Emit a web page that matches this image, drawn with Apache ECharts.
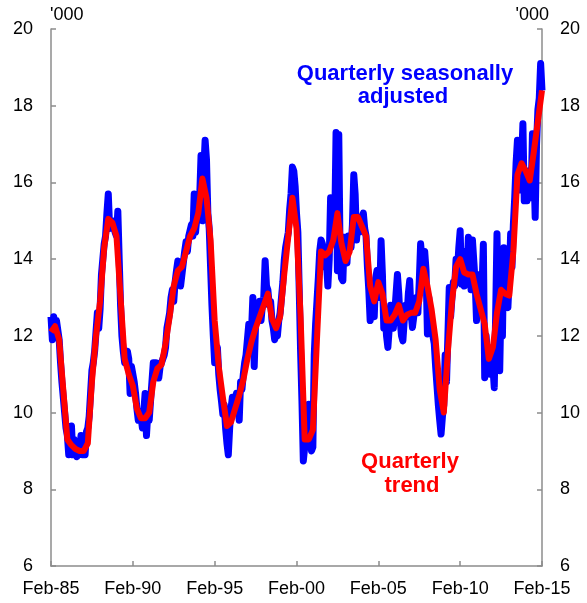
<!DOCTYPE html>
<html>
<head>
<meta charset="utf-8">
<script src="https://cdn.jsdelivr.net/npm/echarts@6/dist/echarts.min.js"></script>
<style>
  html, body { margin: 0; padding: 0; background: #fff; }
  #chart { width: 587px; height: 603px; }
</style>
</head>
<body>
<div id="chart"></div>
<script>
// x ticks every 60 months, starting Feb-85
var tickLabels = ['Feb-85', 'Feb-90', 'Feb-95', 'Feb-00', 'Feb-05', 'Feb-10', 'Feb-15'];

// monthly, Feb-85 .. Feb-15 (quarterly seasonally adjusted, '000)
var saValues = [
  12.5, 11.9, 12.5, 12.0, 12.4, 12.4, 11.9, 11.3, 10.8, 10.4, 10.0, 9.6,
  9.4, 8.9, 9.2, 9.65, 8.9, 9.3, 9.1, 8.85, 9.2, 9.0, 9.4, 8.9,
  9.3, 8.9, 9.5, 9.6, 9.9, 10.5, 11.1, 11.3, 11.6, 12.1, 12.6, 12.2,
  12.7, 13.6, 14.0, 14.4, 14.6, 15.2, 15.7, 14.8, 14.8, 15.0, 14.9, 14.7,
  14.6, 15.25, 14.0, 12.8, 12.0, 11.6, 11.3, 11.4, 11.6, 11.4, 10.5, 11.2,
  11.0, 10.8, 10.5, 10.1, 9.8, 9.75, 9.9, 9.6, 10.0, 10.5, 9.4, 10.0,
  9.8, 10.3, 10.8, 11.3, 11.3, 11.3, 11.2, 10.9, 11.2, 11.3, 11.4, 11.5,
  11.7, 12.2, 12.4, 12.6, 13.0, 13.2, 12.9, 13.4, 13.7, 13.95, 14.0, 13.3,
  13.3, 13.9, 14.2, 14.45, 14.2, 14.6, 14.6, 14.9, 14.6, 15.7, 14.7, 15.1,
  15.2, 15.6, 16.7, 15.0, 16.3, 17.1, 16.6, 15.2, 14.8, 13.8, 12.8, 12.0,
  11.3, 11.5, 11.7, 11.0, 10.6, 10.3, 9.96, 10.2, 9.6, 9.2, 8.9, 9.6,
  10.1, 10.4, 10.1, 10.3, 10.5, 10.2, 9.8, 10.8, 10.6, 11.0, 11.3, 11.5,
  11.5, 12.3, 11.9, 12.1, 13.0, 11.2, 12.3, 12.5, 12.6, 12.9, 12.4, 12.8,
  13.0, 13.96, 13.3, 13.2, 12.8, 12.9, 12.4, 12.2, 11.9, 12.1, 12.0, 12.4,
  12.6, 13.0, 13.4, 13.96, 14.3, 14.5, 14.7, 15.3, 15.7, 16.4, 16.3, 15.9,
  15.2, 14.7, 13.2, 11.6, 10.3, 8.74, 9.1, 9.4, 9.6, 10.22, 9.3, 9.0,
  9.1, 11.5, 12.3, 12.9, 13.5, 14.2, 14.5, 14.4, 13.8, 14.3, 13.9, 13.3,
  14.0, 15.6, 14.4, 14.6, 14.8, 17.3, 13.7, 17.25, 14.0, 13.5, 13.44, 14.57,
  14.0, 13.9, 14.6, 14.5, 14.3, 14.9, 16.2, 15.7, 14.5, 15.0, 14.7, 15.0,
  15.1, 15.2, 14.8, 14.6, 13.8, 13.2, 12.4, 12.6, 13.0, 12.5, 13.5, 13.7,
  13.2, 13.0, 14.48, 13.6, 12.2, 12.6, 12.0, 11.7, 12.2, 12.8, 12.5, 12.2,
  12.6, 13.1, 13.6, 13.1, 12.4, 12.0, 11.87, 12.4, 12.8, 12.5, 13.1, 13.44,
  12.6, 12.22, 12.5, 12.8, 13.0, 12.6, 13.4, 14.4, 14.0, 13.6, 14.2, 13.7,
  12.05, 13.0, 12.6, 12.3, 12.0, 11.8, 11.2, 10.7, 10.2, 9.8, 9.44, 9.9,
  10.2, 11.5, 10.8, 12.0, 13.26, 12.5, 13.0, 13.4, 13.3, 14.0, 13.7, 14.3,
  14.74, 13.35, 14.2, 13.3, 13.6, 13.5, 14.57, 13.7, 13.2, 14.5, 14.48, 13.4,
  12.4, 12.9, 13.6, 12.6, 13.2, 14.39, 10.91, 12.0, 11.5, 11.7, 11.0, 11.4,
  11.2, 10.65, 12.5, 14.66, 12.5, 11.09, 13.0, 12.0, 14.3, 13.2, 12.8, 12.74,
  13.5, 14.66, 13.8, 14.9, 15.6, 16.5, 17.1, 16.2, 15.8, 16.5, 17.53, 15.52,
  16.0, 15.52, 16.3, 16.0, 15.6, 17.27, 16.5, 15.09, 17.0, 17.9, 18.2, 19.1,
  18.4
];

// quarterly trend, one value every 3 months from Feb-85
var trendValues = [
  12.1, 12.25, 11.9, 10.6, 9.3, 9.15, 9.05, 9.0, 9.0, 9.2,
  10.8, 12.0, 12.9, 14.3, 15.05, 14.95, 14.6, 13.0, 11.4, 11.0,
  10.7, 10.1, 9.85, 9.85, 10.0, 10.8, 11.15, 11.25, 11.8, 12.5,
  13.3, 13.7, 13.8, 14.2, 14.6, 14.8, 15.2, 16.1, 15.6, 14.5,
  12.4, 11.2, 10.4, 9.65, 9.75, 10.1, 10.45, 10.85, 11.4, 11.85,
  12.2, 12.5, 12.8, 13.1, 12.45, 12.2, 12.5, 13.6, 14.6, 15.6,
  14.8, 12.5, 9.3, 9.3, 9.55, 11.9, 14.2, 14.1, 14.2, 14.5,
  15.2, 14.4, 13.95, 14.2, 15.1, 15.1, 14.85, 14.6, 13.3, 12.9,
  13.4, 13.1, 12.4, 12.4, 12.55, 12.8, 12.4, 12.55, 12.6, 12.6,
  12.9, 13.75, 13.3, 12.7, 11.9, 10.6, 10.0, 11.6, 12.9, 13.8,
  14.0, 13.65, 13.6, 13.6, 13.1, 12.7, 12.3, 11.4, 11.7, 12.6,
  13.2, 13.1, 13.05, 14.2, 16.2, 16.5, 16.3, 16.05, 16.8, 17.6,
  18.4
];

var chart = echarts.init(document.getElementById('chart'));

var font = "'Liberation Sans', Arial, sans-serif";
var axisColor = '#8c8c8c';

function yAxisCfg(pos) {
  return {
    type: 'value',
    position: pos,
    min: 6,
    max: 20,
    interval: 2,
    axisLine: { show: true, lineStyle: { color: axisColor, width: 1.5 } },
    axisTick: { show: true, inside: true, length: 5, lineStyle: { color: axisColor, width: 1.5 } },
    axisLabel: { color: '#000', fontSize: 18, fontFamily: font, margin: 18 },
    splitLine: { show: false }
  };
}

var option = {
  animation: false,
  grid: { left: 51, right: 45, top: 29, bottom: 37 },
  xAxis: {
    type: 'value',
    min: 0,
    max: 360,
    interval: 60,
    axisLine: { lineStyle: { color: axisColor, width: 1.5 } },
    axisTick: { inside: true, length: 5, lineStyle: { color: axisColor, width: 1.5 } },
    axisLabel: {
      color: '#000', fontSize: 18, fontFamily: font, margin: 14,
      formatter: function (v) { return tickLabels[Math.round(v / 60)]; }
    },
    splitLine: { show: false }
  },
  yAxis: [yAxisCfg('left'), yAxisCfg('right')],
  graphic: [
    { type: 'text', left: 50, top: 6, style: { text: "'000", fill: '#000', font: '18px ' + font } },
    { type: 'text', right: 38, top: 6, style: { text: "'000", fill: '#000', font: '18px ' + font } },
    { type: 'text', x: 405, y: 74, style: { text: 'Quarterly seasonally', fill: '#0000ff', font: 'bold 22px ' + font, textAlign: 'center', textVerticalAlign: 'middle' } },
    { type: 'text', x: 403, y: 97, style: { text: 'adjusted', fill: '#0000ff', font: 'bold 22px ' + font, textAlign: 'center', textVerticalAlign: 'middle' } },
    { type: 'text', x: 410, y: 462, style: { text: 'Quarterly', fill: '#ff0000', font: 'bold 22px ' + font, textAlign: 'center', textVerticalAlign: 'middle' } },
    { type: 'text', x: 412, y: 486, style: { text: 'trend', fill: '#ff0000', font: 'bold 22px ' + font, textAlign: 'center', textVerticalAlign: 'middle' } }
  ],
  series: [
    {
      name: 'Quarterly seasonally adjusted',
      type: 'line',
      symbol: 'none',
      data: saValues.map(function (v, i) { return [i, v]; }),
      lineStyle: { color: '#0000ff', width: 7, join: 'round' },
      z: 2
    },
    {
      name: 'Quarterly trend',
      type: 'line',
      symbol: 'none',
      data: trendValues.map(function (v, i) { return [i * 3, v]; }),
      lineStyle: { color: '#ff0000', width: 6, join: 'round' },
      z: 3
    }
  ]
};

chart.setOption(option);
</script>
</body>
</html>
